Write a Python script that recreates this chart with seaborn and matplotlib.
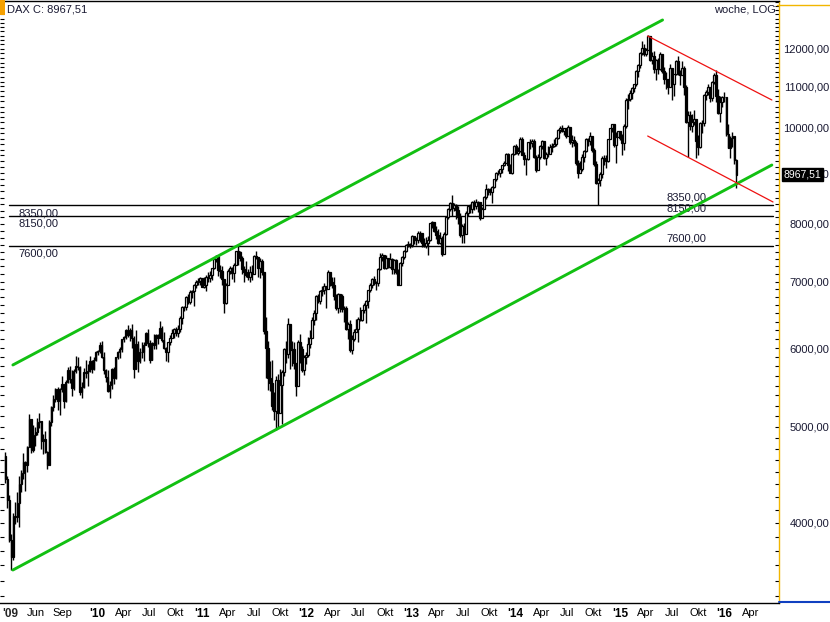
import numpy as np
import pandas as pd
import matplotlib
matplotlib.use("Agg")
import matplotlib.pyplot as plt
import matplotlib.transforms as mtransforms
from matplotlib.patches import Rectangle
from matplotlib.lines import Line2D
import seaborn as sns

# -------------------------
# weekly DAX candles (Friday weeks, 13.02.2009 .. 12.02.2016)
# -------------------------
first_open = 4670

close_2009 = [4425, 4216, 3844, 3696, 4062, 4057, 4187, 4381, 4491, 4611, 4580, 4770, 5087, 4737, 4906, 4941,
              5052, 5069, 4838, 4861, 4718, 4576, 5058, 5229, 5332, 5458, 5309, 5462, 5519, 5305, 5545, 5704,
              5581, 5467, 5684, 5749, 5743, 5414, 5488, 5680, 5663, 5686, 5817, 5709, 5831, 5945]
high_2009 = [4720, 4460, 4270, 3900, 4090, 4200, 4300, 4460, 4520, 4700, 4620, 4780, 5150, 5070, 5020, 5000,
             5100, 5160, 5050, 4920, 4950, 4730, 5080, 5250, 5380, 5470, 5480, 5470, 5620, 5520, 5570, 5740,
             5760, 5700, 5720, 5890, 5880, 5750, 5550, 5730, 5830, 5780, 5890, 5840, 5870, 5960]
low_2009 = [4390, 4140, 3830, 3588, 3670, 3990, 4010, 3960, 4300, 4430, 4310, 4500, 4800, 4700, 4720, 4780,
            4900, 4980, 4750, 4690, 4700, 4530, 4580, 5010, 5180, 5300, 5200, 5140, 5420, 5220, 5300, 5530,
            5530, 5370, 5450, 5660, 5700, 5380, 5350, 5470, 5600, 5490, 5680, 5660, 5700, 5820]

close_2010 = [5957, 6037, 5876, 5696, 5608, 5434, 5501, 5722, 5598, 5877, 5945, 5982, 6121, 6153, 6250, 6180,
              6259, 6136, 5716, 6056, 5829, 5947, 5939, 6049, 6216, 6071, 5835, 6065, 6041, 6183, 6148, 6292,
              6111, 6005, 5951, 6081, 6144, 6207, 6264, 6212, 6265, 6434, 6605, 6601, 6754, 6682, 6825, 6848,
              6947, 6986, 7003, 7057, 6914]
high_2010 = [5970, 6080, 6094, 5950, 5720, 5700, 5560, 5730, 5740, 5880, 5960, 6020, 6130, 6170, 6270, 6330,
             6290, 6340, 6170, 6260, 6100, 6000, 6080, 6080, 6230, 6270, 6110, 6090, 6200, 6200, 6200, 6390,
             6320, 6220, 6010, 6090, 6180, 6270, 6290, 6300, 6330, 6460, 6610, 6620, 6770, 6800, 6860, 6870,
             6960, 7030, 7060, 7080, 7060]
low_2010 = [5900, 5930, 5860, 5650, 5540, 5420, 5340, 5460, 5520, 5580, 5850, 5860, 5950, 6080, 6130, 6150,
            6100, 6000, 5600, 5750, 5670, 5790, 5860, 5820, 6040, 6010, 5800, 5850, 5990, 5980, 6050, 6160,
            6080, 5990, 5820, 5810, 6040, 6140, 6140, 6170, 6150, 6220, 6340, 6540, 6560, 6650, 6640, 6730,
            6620, 6890, 6950, 6940, 6910]

close_2011 = [6948, 7076, 7063, 7102, 7216, 7371, 7426, 7185, 7178, 7044, 6664, 6946, 7176, 7217, 7144, 7278,
              7514, 7493, 7399, 7200, 7163, 7109, 7070, 7164, 7122, 7419, 7417, 7220, 7344, 7159, 6237, 5998,
              5603, 5537, 5247, 5190, 5574, 5164, 5502, 5676, 5988, 5911, 6346, 5966, 5985, 5800, 5492, 6080,
              5986, 5702, 5878, 5898]
high_2011 = [7080, 7100, 7150, 7170, 7230, 7380, 7440, 7440, 7270, 7260, 7020, 6970, 7200, 7250, 7240, 7300,
             7520, 7600, 7510, 7430, 7250, 7340, 7200, 7250, 7280, 7440, 7520, 7360, 7390, 7380, 7150, 6450,
             6100, 5820, 5840, 5420, 5620, 5650, 5710, 5700, 6000, 6100, 6430, 6340, 6100, 6090, 5800, 6110,
             6200, 6030, 5910, 5950]
low_2011 = [6900, 6850, 6990, 7000, 7020, 7200, 7330, 7090, 7050, 6940, 6500, 6640, 6950, 7130, 7040, 7000,
            7290, 7270, 7340, 7120, 7000, 7070, 7030, 7000, 7020, 7120, 7370, 7080, 7050, 7100, 6200, 5600,
            5440, 5430, 5200, 5080, 4965, 5000, 5200, 5030, 5620, 5800, 5860, 5720, 5750, 5720, 5366, 5520,
            5800, 5680, 5640, 5780]

close_2012 = [6057, 6143, 6404, 6511, 6766, 6692, 6849, 6864, 6922, 6880, 7158, 6996, 6947, 6775, 6583, 6801,
              6762, 6561, 6579, 6271, 6340, 5979, 6130, 6230, 6264, 6416, 6410, 6557, 6630, 6689, 6865, 6945,
              7040, 6972, 6970, 7214, 7412, 7451, 7216, 7398, 7233, 7381, 7203, 7363, 7163, 6950, 7309, 7405,
              7518, 7614, 7636, 7612]
high_2012 = [6160, 6250, 6440, 6550, 6780, 6800, 6870, 6920, 6980, 6920, 7190, 7110, 7080, 7070, 6800, 6820,
             6800, 6800, 6610, 6610, 6380, 6400, 6180, 6270, 6420, 6440, 6600, 6560, 6660, 6700, 6870, 6970,
             7060, 7090, 7010, 7230, 7480, 7480, 7440, 7440, 7400, 7480, 7400, 7380, 7380, 7200, 7330, 7420,
             7530, 7630, 7690, 7660]
low_2012 = [5880, 6000, 6140, 6330, 6400, 6660, 6640, 6770, 6800, 6580, 6920, 6920, 6900, 6700, 6550, 6510,
            6520, 6520, 6380, 6250, 6120, 5950, 5920, 6100, 6220, 6080, 6390, 6390, 6500, 6360, 6580, 6830,
            6890, 6950, 6870, 6930, 7190, 7340, 7210, 7210, 7220, 7220, 7120, 7130, 7130, 6950, 6940, 7250,
            7370, 7490, 7590, 7560]

close_2013 = [7776, 7715, 7702, 7832, 7833, 7652, 7593, 7661, 7708, 8016, 8043, 7871, 7795, 7659, 7745, 7459,
              7815, 8122, 8279, 8400, 8305, 8349, 8254, 8127, 7790, 7959, 7806, 8213, 8331, 8290, 8410, 8338,
              8413, 8417, 8104, 8276, 8510, 8675, 8661, 8623, 8724, 8868, 9001, 9009, 9079, 9168, 9213, 9405,
              9173, 9006, 9400, 9589]
high_2013 = [7790, 7780, 7760, 7870, 7870, 7840, 7740, 7760, 7780, 8020, 8060, 8000, 7960, 7900, 7850, 7770,
             7850, 8130, 8300, 8410, 8560, 8400, 8370, 8330, 8200, 7990, 8020, 8250, 8340, 8370, 8440, 8460,
             8480, 8440, 8420, 8320, 8530, 8770, 8690, 8700, 8740, 8880, 9020, 9070, 9090, 9180, 9260, 9420,
             9420, 9200, 9420, 9600]
low_2013 = [7590, 7640, 7620, 7650, 7680, 7580, 7590, 7560, 7440, 7690, 7920, 7850, 7730, 7630, 7630, 7420,
            7470, 7800, 8100, 8250, 8150, 8250, 8100, 8000, 7760, 7650, 7650, 7830, 8140, 8210, 8200, 8260,
            8290, 8230, 8070, 8110, 8280, 8480, 8550, 8560, 8400, 8700, 8830, 8950, 8910, 9000, 9150, 9210,
            9050, 9000, 8990, 9390]

close_2014 = [9435, 9473, 9743, 9393, 9306, 9292, 9663, 9657, 9692, 9350, 9056, 9343, 9588, 9695, 9315, 9409,
              9401, 9556, 9581, 9630, 9768, 9943, 9987, 9912, 9987, 9815, 10009, 9666, 9720, 9644, 9210, 9009,
              9092, 9339, 9470, 9747, 9691, 9799, 9490, 9195, 8788, 8850, 8988, 9326, 9291, 9252, 9732, 9980,
              10087, 9594, 9787, 9923]
high_2014 = [9620, 9550, 9790, 9790, 9440, 9310, 9670, 9730, 9740, 9730, 9380, 9400, 9600, 9720, 9690, 9460,
             9590, 9620, 9650, 9750, 9780, 9970, 10030, 10050, 10000, 10000, 10050, 10020, 9830, 9810, 9690, 9280,
             9250, 9400, 9500, 9770, 9770, 9890, 9810, 9530, 9260, 8900, 9030, 9360, 9390, 9380, 9750, 10000,
             10090, 10030, 9910, 9930]
low_2014 = [9400, 9380, 9440, 9380, 9170, 8970, 9280, 9520, 9560, 9330, 9020, 9060, 9300, 9520, 9300, 9160,
            9350, 9400, 9440, 9550, 9580, 9750, 9880, 9890, 9830, 9760, 9800, 9620, 9560, 9580, 9170, 8900,
            9000, 9050, 9230, 9440, 9590, 9600, 9450, 9150, 8770, 8355, 8730, 8900, 9170, 9100, 9240, 9730,
            9890, 9560, 9220, 9780]

close_2015 = [9765, 9649, 10032, 10649, 10694, 10846, 10963, 11051, 11402, 11551, 11901, 12040, 11868, 11967,
              12375, 11689, 11811, 11454, 11709, 11448, 11865, 11414, 11197, 11197, 10978, 11492, 11058, 11316,
              11674, 11347, 11309, 11490, 10985, 10124, 10298, 10038, 10123, 10190, 9688, 9553, 10097, 10104,
              10795, 10850, 10988, 10708, 11119, 11294, 10752, 10340, 10608, 10728]
high_2015 = [9900, 9860, 10090, 10700, 10810, 10900, 10980, 11070, 11420, 11590, 11920, 12220, 12150, 12040,
             12390, 12370, 11920, 11940, 11720, 11740, 11920, 11860, 11520, 11380, 11170, 11600, 11200, 11330,
             11700, 11800, 11420, 11670, 11540, 11050, 10400, 10400, 10330, 10420, 10140, 9820, 10120, 10180,
             10810, 10900, 11060, 10990, 11130, 11340, 11430, 10940, 10760, 10760]
low_2015 = [9720, 9380, 9500, 9990, 10450, 10640, 10680, 10860, 11000, 11250, 11480, 11820, 11800, 11800,
            11960, 11670, 11580, 11340, 11170, 11320, 11440, 11350, 11060, 10940, 10800, 11000, 10650, 10770,
            11300, 11300, 11040, 11300, 10790, 10110, 9340, 9950, 9900, 10060, 9330, 9380, 9540, 9880,
            10030, 10650, 10790, 10620, 10630, 11060, 10600, 10330, 10130, 10500]

close_2016 = [10743, 9849, 9546, 9765, 9798, 9286, 8967.51]
high_2016 = [10850, 10490, 10090, 9800, 9900, 9770, 9300]
low_2016 = [10600, 9800, 9540, 9315, 9570, 9200, 8700]

# trend lines (start date, start value, end date, end value)
green_lower = [("2009-03-11", 3587), ("2016-06-15", 9170)]
green_upper = [("2009-03-11", 5769), ("2015-05-30", 12833)]
red_upper = [("2015-04-08", 12365), ("2016-06-15", 10661)]
red_lower = [("2015-04-08", 9807), ("2016-06-19", 8417)]

levels = [8350, 8150, 7600]
level_span = ("2009-02-26", "2016-06-19")

last_close = 8967.51
price_ticks = [4000, 5000, 6000, 7000, 8000, 9000, 10000, 11000, 12000]

year_ticks = ["2010-01-01", "2011-01-01", "2012-01-01", "2013-01-01", "2014-01-01", "2015-01-01", "2016-01-01"]
year_labels = ["'10", "'11", "'12", "'13", "'14", "'15", "'16"]
month_ticks = ["2009-06-01", "2009-09-01",
               "2010-04-01", "2010-07-01", "2010-10-01",
               "2011-04-01", "2011-07-01", "2011-10-01",
               "2012-04-01", "2012-07-01", "2012-10-01",
               "2013-04-01", "2013-07-01", "2013-10-01",
               "2014-04-01", "2014-07-01", "2014-10-01",
               "2015-04-01", "2015-07-01", "2015-10-01",
               "2016-04-01"]
month_labels = ["Jun", "Sep"] + ["Apr", "Jul", "Okt"] * 6 + ["Apr"]

# -------------------------
# build the frame
# -------------------------
close = np.array(close_2009 + close_2010 + close_2011 + close_2012 + close_2013 + close_2014 + close_2015 + close_2016, dtype=float)
high = np.array(high_2009 + high_2010 + high_2011 + high_2012 + high_2013 + high_2014 + high_2015 + high_2016, dtype=float)
low = np.array(low_2009 + low_2010 + low_2011 + low_2012 + low_2013 + low_2014 + low_2015 + low_2016, dtype=float)
opens = np.concatenate([[first_open], close[:-1]])

df = pd.DataFrame({
    "date": pd.date_range("2009-02-13", periods=len(close), freq="W-FRI"),
    "open": opens, "high": high, "low": low, "close": close,
})
df["body_lo"] = df[["open", "close"]].min(axis=1)
df["body_hi"] = df[["open", "close"]].max(axis=1)
df["high"] = np.maximum(df["high"], df["body_hi"])
df["low"] = np.minimum(df["low"], df["body_lo"])
df["up"] = df["close"] >= df["open"]

# -------------------------
# figure
# -------------------------
sns.set_style("white")
plt.rcParams["font.family"] = ["Liberation Sans", "DejaVu Sans"]

W, H = 830, 622
fig = plt.figure(figsize=(8.3, 6.22), dpi=100)
ax = fig.add_axes([0, (H - 603) / H, 779 / W, 602 / H])
ax.set_yscale("log")

# candles
ax.vlines(df["date"], df["low"], df["high"], color="black", lw=1.0, zorder=2)
ax.bar(df["date"], df["body_hi"] - df["body_lo"], bottom=df["body_lo"], width=6,
       color=np.where(df["up"], "white", "black"), edgecolor="black", linewidth=0.9, zorder=3)

# support / resistance levels
for lv in levels:
    ax.plot(pd.to_datetime(list(level_span)), [lv, lv], color="black", lw=1.0, zorder=1)
    ax.annotate(f"{lv},00", xy=(pd.Timestamp("2009-04-01"), lv), xytext=(0, -5.5),
                textcoords="offset points", va="center", ha="left", fontsize=8, color="#1a1a33")
    ax.annotate(f"{lv},00", xy=(pd.Timestamp("2015-06-14"), lv), xytext=(0, 5.5),
                textcoords="offset points", va="center", ha="left", fontsize=8, color="#1a1a33")

# channels
for seg, col, lw in [(green_lower, "#12c012", 2.1), (green_upper, "#12c012", 2.1),
                     (red_upper, "#ee1111", 0.9), (red_lower, "#ee1111", 0.9)]:
    seg_df = pd.DataFrame({"d": pd.to_datetime([p[0] for p in seg]), "v": [p[1] for p in seg]})
    sns.lineplot(data=seg_df, x="d", y="v", ax=ax, color=col, lw=lw, zorder=4)

ax.set_xlim(pd.Timestamp("2009-01-25"), pd.Timestamp("2016-07-10"))
ax.set_ylim(3323, 13410)
ax.set_xlabel("")
ax.set_ylabel("")

# y axis on the right
ax.set_yticks(price_ticks, labels=[f"{v},00" for v in price_ticks])
ax.set_yticks(np.arange(3375, 13400, 125), minor=True)
ax.yaxis.set_minor_formatter(matplotlib.ticker.NullFormatter())
ax.tick_params(axis="y", which="both", left=True, right=True, direction="in", length=3,
               width=0.8, color="black", labelleft=False, labelright=True, labelsize=8,
               labelcolor="#1a1a33", pad=36)
plt.setp(ax.get_yticklabels(), ha="right")

# x axis
ax.set_xticks(pd.to_datetime(year_ticks), labels=year_labels)
ax.set_xticks(pd.to_datetime(month_ticks), labels=month_labels, minor=True)
ax.tick_params(axis="x", which="both", direction="out", length=2, width=0.8,
               labelsize=8, pad=1.5, colors="black")
for t in ax.get_xticklabels():
    t.set_fontweight("bold")
    t.set_fontsize(8.5)
ax.annotate("'09", xy=(0, 0), xycoords="axes fraction", xytext=(1.5, -3.5),
            textcoords="offset points", va="top", ha="left", fontsize=8.5, fontweight="bold")

for side in ["top", "bottom"]:
    ax.spines[side].set_color("black")
    ax.spines[side].set_linewidth(1.0)
ax.spines["left"].set_visible(False)
ax.spines["right"].set_color("#f2b600")
ax.spines["right"].set_linewidth(1.0)

# last price box (covers most of the 9000,00 label, as in the terminal)
tr = mtransforms.blended_transform_factory(ax.transAxes, ax.transData)
ax.text(783.5 / 779, last_close, "8967,51", transform=tr, ha="left", va="center", fontsize=7.5,
        color="white", clip_on=False, zorder=10,
        bbox=dict(boxstyle="square,pad=0.15", fc="black", ec="black"))

# header texts and frame bits
fig.text(7 / W, 1 - 9 / H, "DAX C: 8967,51", fontsize=8, va="center", ha="left", color="#1a1a33")
fig.text(776 / W, 1 - 9 / H, "woche, LOG", fontsize=8, va="center", ha="right", color="#1a1a33")
fig.patches.append(Rectangle((0, 1 - 15 / H), 5 / W, 15 / H, transform=fig.transFigure,
                             fc="#f5a000", ec="none"))
fig.lines.append(Line2D([777 / W, 1], [1 - 5 / H, 1 - 5 / H], transform=fig.transFigure,
                        color="#f2b600", lw=1.0))
fig.lines.append(Line2D([779 / W, 1], [1 - 602 / H, 1 - 602 / H], transform=fig.transFigure,
                        color="#1040c0", lw=1.5))

fig.savefig("out.png", dpi=100)
